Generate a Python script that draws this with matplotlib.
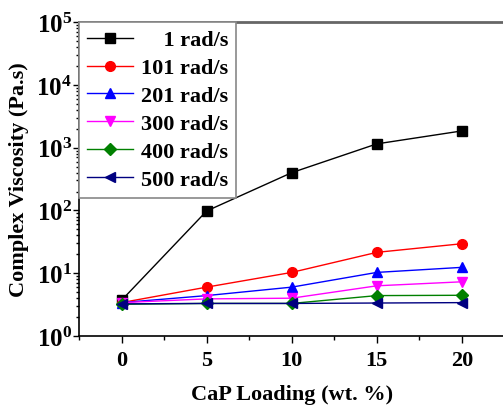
import math
import matplotlib
matplotlib.use("Agg")
import matplotlib.pyplot as plt
from matplotlib.ticker import FixedLocator, FuncFormatter, LogLocator, NullFormatter

plt.rcParams["font.family"] = ["Liberation Serif", "DejaVu Serif"]
plt.rcParams["font.weight"] = "bold"
plt.rcParams["mathtext.fontset"] = "custom"
plt.rcParams["mathtext.rm"] = "Liberation Serif:bold"
plt.rcParams["mathtext.bf"] = "Liberation Serif:bold"

# CaP loading (wt. %)
loading = [0, 5, 10, 15, 20]

# complex viscosity (Pa.s) at each frequency
visc_1 = [3.7, 98, 400, 1150, 1850]
visc_101 = [3.4, 6.0, 10.3, 21.5, 29.5]
visc_201 = [3.4, 4.4, 6.0, 10.3, 12.4]
visc_300 = [3.4, 3.9, 4.0, 6.3, 7.3]
visc_400 = [3.2, 3.3, 3.3, 4.4, 4.45]
visc_500 = [3.25, 3.3, 3.3, 3.35, 3.4]

series = [
    ("    1 rad/s", visc_1, "black", "s"),
    ("101 rad/s", visc_101, "red", "o"),
    ("201 rad/s", visc_201, "blue", "^"),
    ("300 rad/s", visc_300, "magenta", "v"),
    ("400 rad/s", visc_400, "green", "D"),
    ("500 rad/s", visc_500, "navy", "<"),
]

fig = plt.figure(figsize=(5.03, 4.06), dpi=100)
ax = fig.add_axes([0.157, 0.170, 0.846, 0.773])

for label, vals, col, mk in series:
    ms = 6 if mk == "D" else 7
    ax.plot(loading, vals, color=col, marker=mk, markersize=ms, linewidth=1, label=label)

ax.set_yscale("log")
ax.set_ylim(1, 1e5)
ax.set_xlim(-2.5, 22.5)

ax.xaxis.set_major_locator(FixedLocator([0, 5, 10, 15, 20]))
ax.xaxis.set_minor_locator(FixedLocator([-2.5, 2.5, 7.5, 12.5, 17.5, 22.5]))
ax.yaxis.set_major_locator(LogLocator(base=10, numticks=10))
ax.yaxis.set_minor_locator(LogLocator(base=10, subs=range(2, 10), numticks=10))
ax.yaxis.set_minor_formatter(NullFormatter())
ax.yaxis.set_major_formatter(FuncFormatter(lambda v, p: r"$\mathbf{10^{%d}}$" % round(math.log10(v))))

ax.tick_params(axis="x", which="major", direction="out", length=5, width=1, pad=5, labelsize=16)
ax.tick_params(axis="x", which="minor", direction="out", length=3, width=1)
ax.tick_params(axis="y", which="major", direction="out", length=4, width=1, pad=1, labelsize=18)
ax.tick_params(axis="y", which="minor", direction="out", length=2, width=1)
for t in ax.get_xticklabels():
    t.set_fontweight("bold")

ax.spines["right"].set_visible(False)
ax.spines["top"].set_color("#666666")
ax.spines["top"].set_linewidth(2)
ax.spines["left"].set_linewidth(1.2)
ax.spines["bottom"].set_linewidth(1.2)

ax.set_xlabel("CaP Loading (wt. %)", fontsize=16, fontweight="bold", labelpad=10)
ax.set_ylabel("Complex Viscosity (Pa.s)", fontsize=16, fontweight="bold", labelpad=5)

leg = ax.legend(loc="upper left", borderaxespad=0, fontsize=16, fancybox=False,
                edgecolor="#888888", framealpha=1, handlelength=2.1,
                handletextpad=0.35, labelspacing=0.33, borderpad=0.35)
leg.get_frame().set_linewidth(1.2)

fig.savefig("out.png", dpi=100)
